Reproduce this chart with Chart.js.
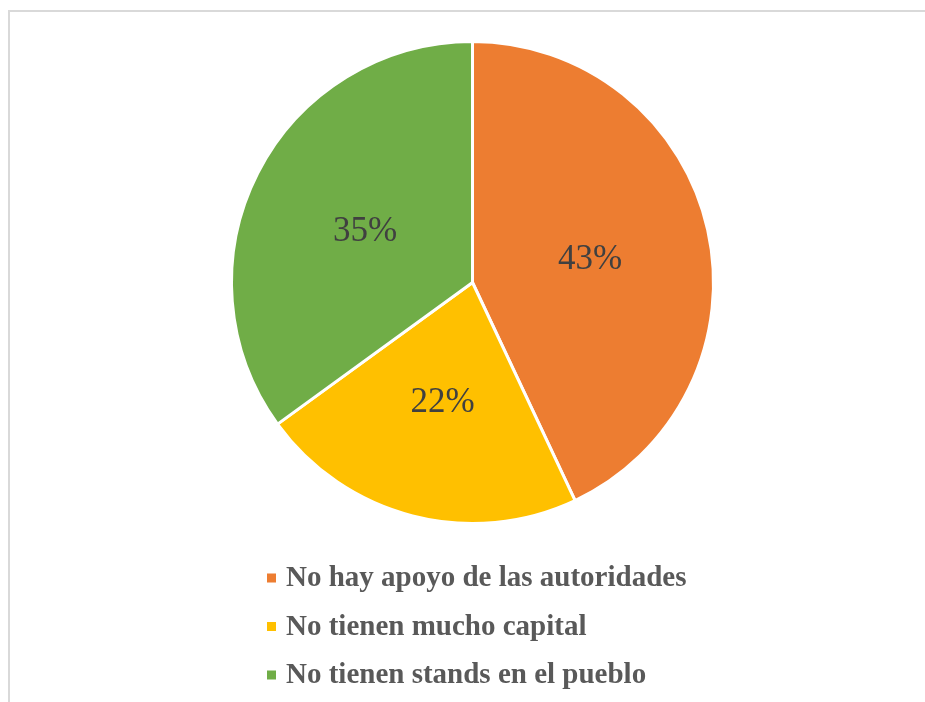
<!DOCTYPE html>
<html><head><meta charset="utf-8">
<script src="https://cdn.jsdelivr.net/npm/chart.js@4/dist/chart.umd.min.js"></script>
<style>
html,body{margin:0;padding:0;background:#fff;overflow:hidden}
#frame{position:absolute;left:8px;top:10px;width:1000px;height:800px;border-left:2px solid #d9d9d9;border-top:2px solid #d9d9d9}
#wrap{position:absolute;left:0;top:0;width:925px;height:702px}
</style></head><body>
<div id="frame"></div>
<div id="wrap"><canvas id="c" width="925" height="702"></canvas></div>
<script>
const categories = ["No hay apoyo de las autoridades","No tienen mucho capital","No tienen stands en el pueblo"];
const values = [43, 22, 35];
const colors = ["#ED7D31","#FFC000","#70AD47"];

const labelsPlugin = {
  id:'lbls',
  afterDatasetsDraw(chart){
    const ctx = chart.ctx;
    const meta = chart.getDatasetMeta(0);
    const total = values.reduce((a,b)=>a+b,0);
    ctx.save();
    ctx.font = '35px "Liberation Serif", "Times New Roman", serif';
    ctx.fillStyle = '#404040';
    ctx.textAlign='center'; ctx.textBaseline='middle';
    meta.data.forEach((arc,i)=>{
      const p = arc.tooltipPosition();
      ctx.fillText(Math.round(values[i]/total*100)+'%', p.x, p.y+4);
    });
    // legend
    ctx.font = 'bold 29px "Liberation Serif", "Times New Roman", serif';
    ctx.textAlign='left'; ctx.textBaseline='middle';
    categories.forEach((c,i)=>{
      const y = 578 + i*48.5;
      ctx.fillStyle = colors[i];
      ctx.fillRect(267, y-4.5, 9, 9);
      ctx.fillStyle = '#595959';
      ctx.fillText(c, 286, y+1);
    });
    ctx.restore();
  }
};

new Chart(document.getElementById('c'),{
  type:'pie',
  data:{labels:categories,datasets:[{data:values,backgroundColor:colors,borderColor:'#ffffff',borderWidth:3}]},
  options:{
    responsive:false,animation:false,
    layout:{padding:{top:39,bottom:176,left:230,right:210}},
    plugins:{legend:{display:false},tooltip:{enabled:false}}
  },
  plugins:[labelsPlugin]
});
</script>
</body></html>
